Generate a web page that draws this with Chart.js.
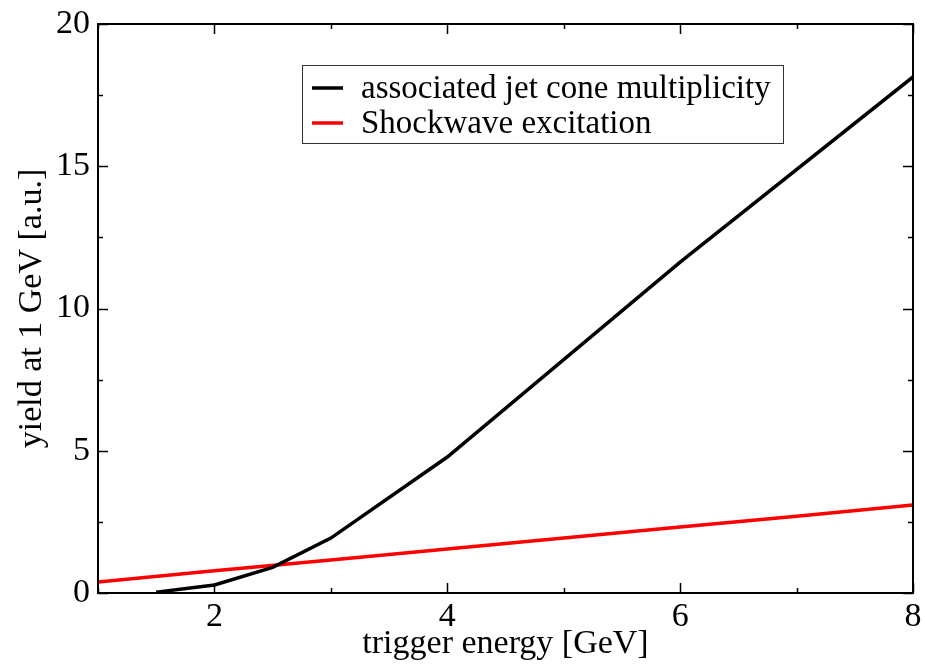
<!DOCTYPE html>
<html><head><meta charset="utf-8">
<script src="https://cdn.jsdelivr.net/npm/chart.js@4"></script>
<style>html,body{margin:0;padding:0;background:#fff}#wrap{width:925px;height:664px;position:relative}</style>
</head><body><div id="wrap"><canvas id="c" width="925" height="664"></canvas></div>
<script>
const jetX = [1.5, 2, 2.5, 3, 4, 6, 8];
const jetY = [0.03, 0.28, 0.9, 1.93, 4.78, 11.63, 18.14];
const shockX = [1, 2, 3, 4, 5, 6, 7, 8];
const shockY = [0.39, 0.78, 1.16, 1.55, 1.93, 2.32, 2.70, 3.09];
const seriesLabels = ['associated jet cone multiplicity', 'Shockwave excitation'];
const xTicks = [2, 4, 6, 8];
const yTicks = [0, 5, 10, 15, 20];
const xTitle = 'trigger energy [GeV]';
const yTitle = 'yield at 1 GeV [a.u.]';

const FONT = '"Liberation Serif", "Times New Roman", serif';
const toPts = (xs, ys) => xs.map((x, i) => ({x, y: ys[i]}));

const framePlugin = {
  id: 'frame',
  afterDatasetsDraw(chart) {
    const {ctx, chartArea: a, scales: {x, y}} = chart;
    ctx.save();
    ctx.strokeStyle = '#000';
    ctx.lineWidth = 1.5;
    ctx.beginPath();
    for (let v = 1; v <= 8; v++) {
      const px = Math.round(x.getPixelForValue(v)) + 0.5;
      const len = (v % 2 === 0) ? 10 : 5;
      ctx.moveTo(px, a.bottom); ctx.lineTo(px, a.bottom - len);
      ctx.moveTo(px, a.top); ctx.lineTo(px, a.top + len);
    }
    for (let v = 0; v <= 20; v += 2.5) {
      const py = Math.round(y.getPixelForValue(v)) + 0.5;
      const len = (v % 5 === 0) ? 10 : 5;
      ctx.moveTo(a.left, py); ctx.lineTo(a.left + len, py);
      ctx.moveTo(a.right, py); ctx.lineTo(a.right - len, py);
    }
    ctx.stroke();
    ctx.lineWidth = 2;
    ctx.strokeRect(a.left, a.top, a.right - a.left, a.bottom - a.top);
    // legend
    const lx = 302, ly = 65, lw = 481, lh = 78;
    ctx.fillStyle = '#fff';
    ctx.fillRect(lx, ly, lw, lh);
    ctx.lineWidth = 1;
    ctx.strokeStyle = '#333';
    ctx.strokeRect(lx + 0.5, ly + 0.5, lw, lh);
    ctx.font = '33px ' + FONT;
    ctx.textBaseline = 'middle';
    ctx.textAlign = 'left';
    chart.data.datasets.forEach((ds, i) => {
      const cy = ly + 23 + i * 35;
      ctx.strokeStyle = ds.borderColor;
      ctx.lineWidth = 3.5;
      ctx.beginPath(); ctx.moveTo(lx + 10, cy); ctx.lineTo(lx + 41, cy); ctx.stroke();
      ctx.fillStyle = '#000';
      ctx.fillText(ds.label, lx + 59, cy + 1);
    });
    ctx.restore();
  }
};

new Chart(document.getElementById('c'), {
  type: 'line',
  data: {
    datasets: [
      {label: seriesLabels[0], data: toPts(jetX, jetY), borderColor: '#000', borderWidth: 3.5, pointRadius: 0, fill: false, tension: 0},
      {label: seriesLabels[1], data: toPts(shockX, shockY), borderColor: '#ff0000', borderWidth: 3.5, pointRadius: 0, fill: false, tension: 0}
    ]
  },
  options: {
    responsive: false,
    animation: false,
    layout: {padding: {top: 24, right: 12, left: 0, bottom: 0}},
    plugins: {legend: {display: false}, tooltip: {enabled: false}},
    scales: {
      x: {
        type: 'linear', min: 1, max: 8,
        afterBuildTicks: s => { s.ticks = xTicks.map(v => ({value: v})); },
        afterFit: s => { s.height = 71; s.paddingLeft = 0; s.paddingRight = 0; },
        grid: {display: false, drawTicks: false},
        border: {display: false},
        ticks: {color: '#000', font: {family: FONT, size: 34}, padding: 4, maxRotation: 0},
        title: {display: true, text: xTitle, color: '#000', font: {family: FONT, size: 34}, padding: {top: -8, bottom: 0}}
      },
      y: {
        type: 'linear', min: 0, max: 20,
        afterBuildTicks: s => { s.ticks = yTicks.map(v => ({value: v})); },
        afterFit: s => { s.width = 98; s.paddingTop = 0; s.paddingBottom = 0; },
        grid: {display: false, drawTicks: false},
        border: {display: false},
        ticks: {color: '#000', font: {family: FONT, size: 34}, padding: 8},
        title: {display: true, text: yTitle, color: '#000', font: {family: FONT, size: 34}, padding: {top: 12, bottom: 0}}
      }
    }
  },
  plugins: [framePlugin]
});
</script></body></html>
